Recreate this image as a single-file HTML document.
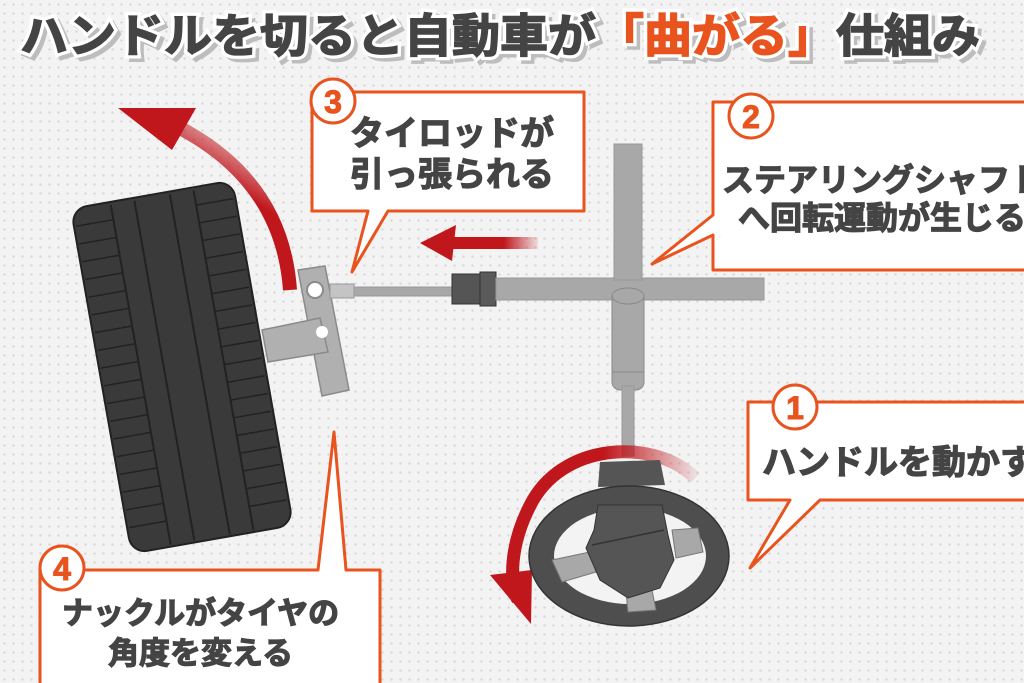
<!DOCTYPE html>
<html><head><meta charset="utf-8">
<style>
html,body{margin:0;padding:0;}
body{width:1024px;height:683px;overflow:hidden;background-color:#f3f3f3;
background-image:radial-gradient(circle,#d4d4d4 1px,transparent 1.3px);background-size:9px 9px;}
svg{display:block;font-family:"Liberation Sans","Noto Sans CJK JP",sans-serif;}
</style></head><body>
<svg width="1024" height="683" viewBox="0 0 1024 683">
<defs>
<linearGradient id="ga" x1="0" y1="0" x2="1" y2="0">
<stop offset="0" stop-color="#c0171c"/><stop offset="0.6" stop-color="#c0171c"/><stop offset="1" stop-color="#c0171c" stop-opacity="0.1"/></linearGradient>
<linearGradient id="gs" x1="0" y1="1" x2="0.4" y2="0">
<stop offset="0" stop-color="#c0171c"/><stop offset="0.7" stop-color="#c0171c"/><stop offset="1" stop-color="#c0171c" stop-opacity="0.3"/></linearGradient>
<linearGradient id="gw" x1="0" y1="0" x2="1" y2="0">
<stop offset="0" stop-color="#c0171c"/><stop offset="0.5" stop-color="#c0171c"/><stop offset="1" stop-color="#c0171c" stop-opacity="0.1"/></linearGradient>
</defs>
<!-- title -->
<g font-weight="bold" font-size="46">
<text x="24" y="56" textLength="960" lengthAdjust="spacingAndGlyphs" fill="#bdbdbd" stroke="#bdbdbd" stroke-width="7">ハンドルを切ると自動車が「曲がる」仕組み</text>
<text x="20" y="52" textLength="960" lengthAdjust="spacingAndGlyphs" fill="#fff" stroke="#fff" stroke-width="8">ハンドルを切ると自動車が「曲がる」仕組み</text>
<text x="20" y="52" textLength="960" lengthAdjust="spacingAndGlyphs" fill="#444" stroke="#444" stroke-width="1.5"><tspan>ハンドルを切ると自動車が</tspan><tspan fill="#e8531e" stroke="#e8531e">「曲がる」</tspan><tspan>仕組み</tspan></text>
</g>

<!-- wheel arrow -->
<path d="M290,290 C285,220 250,165 180,128" stroke="url(#gs)" stroke-width="14" fill="none"/>
<polygon points="118,108 196,108 172,150" fill="#c0171c"/>

<!-- tire -->
<g transform="rotate(-10 182 367)">
<rect x="100" y="192" width="164" height="350" rx="16" fill="#3a3a3a" stroke="#222" stroke-width="2"/>
<g stroke="#222" stroke-width="2">
<line x1="140" y1="195" x2="140" y2="540"/><line x1="164" y1="195" x2="164" y2="540"/>
<line x1="200" y1="195" x2="200" y2="540"/><line x1="224" y1="195" x2="224" y2="540"/>
</g>
<g stroke="#222" stroke-width="1.5">
<path d="M102,210h38M102,228h38M102,246h38M102,264h38M102,282h38M102,300h38M102,318h38M102,336h38M102,354h38M102,372h38M102,390h38M102,408h38M102,426h38M102,444h38M102,462h38M102,480h38M102,498h38M102,516h38"/>
<path d="M224,210h38M224,228h38M224,246h38M224,264h38M224,282h38M224,300h38M224,318h38M224,336h38M224,354h38M224,372h38M224,390h38M224,408h38M224,426h38M224,444h38M224,462h38M224,480h38M224,498h38M224,516h38"/>
</g>
</g>

<!-- knuckle -->
<g fill="#b0b0b0" stroke="#8a8a8a" stroke-width="1.5">
<polygon points="298,270 325,266 349,390 322,396"/>
<polygon points="262,330 320,318 328,352 268,362"/>
</g>
<circle cx="315" cy="290" r="8" fill="#fff" stroke="#8a8a8a" stroke-width="2"/>
<circle cx="322" cy="332" r="6" fill="#fff"/>
<!-- tie rod -->
<rect x="330" y="284" width="24" height="14" fill="#c4c4c4" stroke="#999"/>
<rect x="354" y="287" width="100" height="9" fill="#a8a8a8" stroke="#999"/>
<rect x="452" y="274" width="30" height="30" fill="#555" stroke="#333"/>
<rect x="480" y="272" width="16" height="34" fill="#5a5a5a" stroke="#333"/>
<rect x="496" y="278" width="268" height="22" fill="#a8a8a8" stroke="#999"/>
<!-- steering shaft -->
<rect x="614" y="144" width="28" height="136" fill="#a8a8a8" stroke="#999"/>
<rect x="612" y="290" width="32" height="100" rx="8" fill="#a8a8a8" stroke="#888"/>
<ellipse cx="628" cy="296" rx="16" ry="8" fill="#a8a8a8" stroke="#888"/>
<line x1="612" y1="372" x2="644" y2="372" stroke="#888"/>
<rect x="622" y="386" width="12" height="70" fill="#a8a8a8" stroke="#999"/>

<!-- left arrow -->
<rect x="452" y="237" width="86" height="12" fill="url(#ga)"/>
<polygon points="420,243 456,225 452,261" fill="#c0171c"/>

<!-- steering wheel -->
<path d="M697,478 C660,440 570,440 535,500 C510,545 512,585 520,600" stroke="url(#gw)" stroke-width="13" fill="none" transform="translate(-2,0)"/>
<polygon points="490,575 532,570 531,624" fill="#c0171c"/>
<polygon points="600,462 660,460 665,485 598,487" fill="#555"/>
<ellipse cx="629" cy="556" rx="100" ry="70" fill="#4e4e4e" stroke="#333" stroke-width="1.5"/>
<ellipse cx="630" cy="556" rx="76" ry="48" fill="#f3f3f3"/>
<polygon points="552,560 590,552 596,572 562,582" fill="#a8a8a8" stroke="#777"/>
<polygon points="672,530 698,528 703,552 676,558" fill="#a8a8a8" stroke="#777"/>
<polygon points="626,592 652,590 656,610 628,612" fill="#a8a8a8" stroke="#777"/>
<polygon points="598,505 662,505 668,535 674,560 660,588 628,598 600,580 586,548 594,530" fill="#555" stroke="#333"/>
<line x1="592" y1="545" x2="664" y2="530" stroke="#333" stroke-width="1.5"/>

<!-- callouts -->
<g fill="#fff" stroke="#e8531e" stroke-width="3" stroke-linejoin="round">
<path d="M312,92 H584 V211 H388 L352,272 L368,211 H312 Z"/>
<path d="M713,102 H1030 V270 H713 V235 L652,264 L713,215 Z"/>
<path d="M748,402 H1030 V500 H820 L750,568 L790,500 H748 Z"/>
<path d="M40,570 H318 L334,432 L346,570 H380 V690 H40 Z"/>
</g>
<g fill="#fff" stroke="#e8531e" stroke-width="3">
<circle cx="333" cy="101" r="22"/><circle cx="751" cy="116" r="22"/>
<circle cx="795" cy="407" r="22"/><circle cx="62" cy="568" r="22"/>
</g>
<g font-weight="bold" font-size="32" fill="#e8531e" stroke="#e8531e" stroke-width="1" text-anchor="middle">
<text x="333" y="113">3</text><text x="751" y="128">2</text>
<text x="795" y="419">1</text><text x="62" y="580">4</text>
</g>
<g font-weight="bold" fill="#444" stroke="#444" stroke-width="1.2">
<text x="350" y="145" font-size="34">タイロッドが</text>
<text x="350" y="186" font-size="34">引っ張られる</text>
<text x="722" y="191" font-size="32">ステアリングシャフト</text>
<text x="738" y="229" font-size="32">へ回転運動が生じる</text>
<text x="762" y="474" font-size="34">ハンドルを動かす</text>
<text x="62" y="624" font-size="31">ナックルがタイヤの</text>
<text x="108" y="664" font-size="31">角度を変える</text>
</g>
</svg>
</body></html>
